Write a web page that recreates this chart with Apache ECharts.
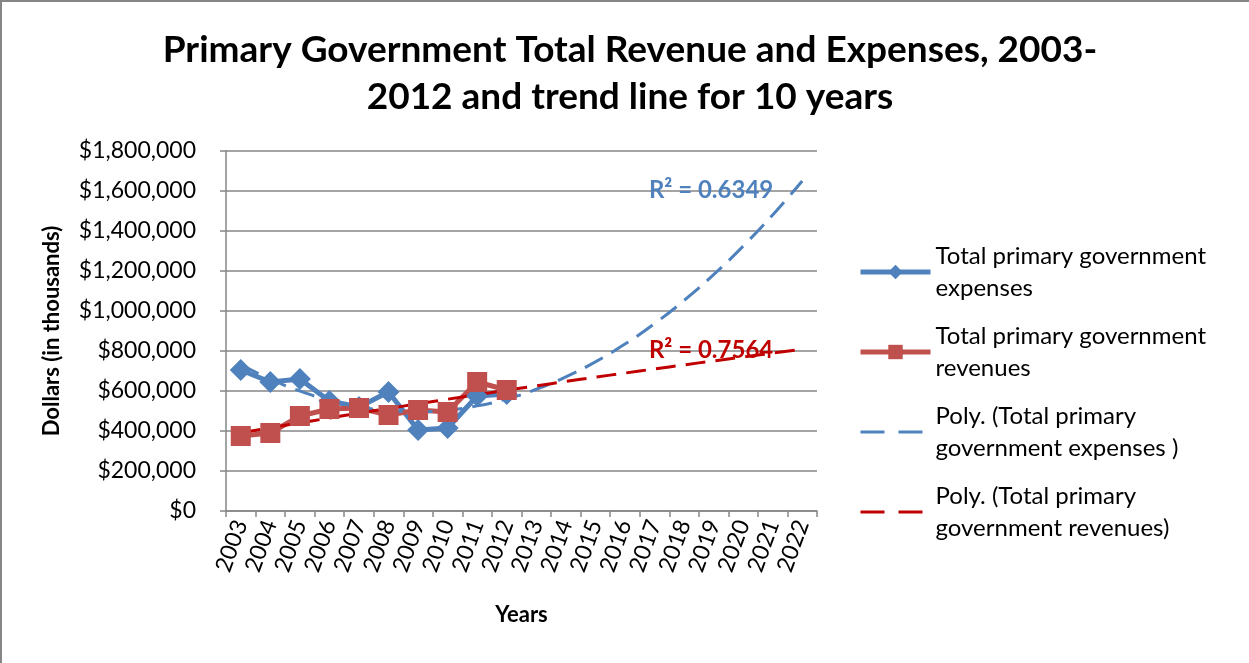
<!DOCTYPE html>
<html>
<head>
<meta charset="utf-8">
<title>Primary Government Total Revenue and Expenses</title>
<script src="https://cdn.jsdelivr.net/npm/echarts@6/dist/echarts.min.js"></script>
<style>
  html, body { margin: 0; padding: 0; background: #ffffff; }
  #frame {
    position: absolute; left: 0; top: 0; width: 1249px; height: 663px;
    box-sizing: border-box; border-top: 2px solid #868686; border-left: 2px solid #868686;
  }
  #chart { position: absolute; left: 0; top: 0; width: 1249px; height: 663px; }
</style>
</head>
<body>
<div id="frame"></div>
<div id="chart"></div>
<script>
// Years on the category axis (observed 2003-2012, projected to 2022)
const years = ['2003','2004','2005','2006','2007','2008','2009','2010','2011','2012',
               '2013','2014','2015','2016','2017','2018','2019','2020','2021','2022'];
// Observed values, dollars in thousands
const expenses = [705000, 645000, 660000, 550000, 520000, 595000, 405000, 415000, 575000, 585000];
const revenues = [375000, 390000, 475000, 510000, 515000, 480000, 505000, 495000, 645000, 605000];
// Goodness-of-fit labels of the polynomial trend lines
const expensesR2 = 'R² = 0.6349';
const revenuesR2 = 'R² = 0.7564';
const seriesNames = [
  'Total primary government\nexpenses',
  'Total primary government\nrevenues',
  'Poly. (Total primary\ngovernment expenses )',
  'Poly. (Total primary\ngovernment revenues)'
];

// Least-squares second-order polynomial through points x = 1..n, evaluated at x = 1..m
function polyTrend(values, m) {
  const n = values.length;
  const s = [0, 0, 0, 0, 0], t = [0, 0, 0];
  for (let i = 0; i < n; i++) {
    const x = i + 1, y = values[i];
    let p = 1;
    for (let k = 0; k <= 4; k++) { s[k] += p; if (k <= 2) t[k] += p * y; p *= x; }
  }
  // Normal equations [s0 s1 s2; s1 s2 s3; s2 s3 s4] * [a b c] = t
  const A = [[s[0], s[1], s[2], t[0]], [s[1], s[2], s[3], t[1]], [s[2], s[3], s[4], t[2]]];
  for (let c = 0; c < 3; c++) {
    for (let r = c + 1; r < 3; r++) {
      const f = A[r][c] / A[c][c];
      for (let k = c; k < 4; k++) A[r][k] -= f * A[c][k];
    }
  }
  const coef = [0, 0, 0];
  for (let r = 2; r >= 0; r--) {
    let v = A[r][3];
    for (let k = r + 1; k < 3; k++) v -= A[r][k] * coef[k];
    coef[r] = v / A[r][r];
  }
  const out = [];
  for (let x = 1; x <= m; x++) out.push(coef[0] + coef[1] * x + coef[2] * x * x);
  return out;
}

const expensesTrend = polyTrend(expenses, years.length);
const revenuesTrend = polyTrend(revenues, years.length);

const FONT = 'Lato, "Open Sans", sans-serif';
const GRID_GREY = '#868686';
const BLUE = '#4F81BD', RED = '#C0504D', DARK_RED = '#C00000';

function r2Label(text, color, offsetY) {
  return {
    show: true,
    formatter: text,
    align: 'right',
    verticalAlign: 'middle',
    distance: 0,
    offset: [-29, offsetY],
    color: color,
    fontFamily: FONT,
    fontWeight: 'bold',
    fontSize: 24
  };
}

const chart = echarts.init(document.getElementById('chart'), null, { renderer: 'canvas' });
chart.setOption({
  backgroundColor: 'transparent',
  animation: false,
  title: {
    text: 'Primary Government Total Revenue and Expenses, 2003-\n2012 and trend line for 10 years',
    left: 625,
    top: 22,
    textAlign: 'center',
    textStyle: { fontFamily: FONT, fontWeight: 'bold', fontSize: 37, lineHeight: 47, color: '#000' }
  },
  grid: { left: 226, right: 432, top: 151, bottom: 152 },
  legend: {
    orient: 'vertical',
    left: 858,
    top: 224,
    padding: 0,
    itemWidth: 70,
    itemHeight: 18,
    itemGap: -16,
    data: [
      { name: seriesNames[0], lineStyle: { width: 5 } },
      { name: seriesNames[1], lineStyle: { width: 5 } },
      { name: seriesNames[2], itemStyle: { opacity: 0 }, lineStyle: { width: 3, type: [24, 14] } },
      { name: seriesNames[3], itemStyle: { opacity: 0 }, lineStyle: { width: 3, type: [24, 14] } }
    ],
    textStyle: { fontFamily: FONT, fontSize: 24, lineHeight: 32, color: '#000', padding: [32, 0, 0, 0] }
  },
  xAxis: {
    type: 'category',
    data: years,
    boundaryGap: true,
    name: 'Years',
    nameLocation: 'middle',
    nameGap: 93,
    nameTextStyle: { fontFamily: FONT, fontWeight: 'bold', fontSize: 22, color: '#000' },
    axisLine: { lineStyle: { color: GRID_GREY, width: 1.5 } },
    axisTick: { show: true, interval: 0, length: 6, lineStyle: { color: GRID_GREY, width: 1.5 } },
    axisLabel: { interval: 0, rotate: 70, margin: 10, fontFamily: FONT, fontSize: 23, color: '#000' }
  },
  yAxis: {
    type: 'value',
    min: 0,
    max: 1800000,
    interval: 200000,
    name: 'Dollars (in thousands)',
    nameLocation: 'middle',
    nameGap: 163,
    nameTextStyle: { fontFamily: FONT, fontWeight: 'bold', fontSize: 22, color: '#000' },
    axisLine: { show: true, lineStyle: { color: GRID_GREY, width: 1.5 } },
    axisTick: { show: true, length: 6, lineStyle: { color: GRID_GREY, width: 1.5 } },
    splitLine: { lineStyle: { color: GRID_GREY, width: 1.5 } },
    axisLabel: {
      margin: 30,
      fontFamily: FONT, fontSize: 23, color: '#000',
      formatter: (v) => '$' + v.toLocaleString('en-US')
    }
  },
  series: [
    {
      name: seriesNames[0],
      type: 'line',
      data: expenses,
      symbol: 'diamond',
      symbolSize: 22,
      color: BLUE,
      lineStyle: { width: 5, color: BLUE },
      itemStyle: { color: BLUE }
    },
    {
      name: seriesNames[1],
      type: 'line',
      data: revenues,
      symbol: 'rect',
      symbolSize: 20,
      color: RED,
      lineStyle: { width: 5, color: RED },
      itemStyle: { color: RED }
    },
    {
      name: seriesNames[2],
      type: 'line',
      data: expensesTrend,
      smooth: true,
      symbol: 'none',
      color: BLUE,
      lineStyle: { width: 3, type: [20, 10], color: BLUE },
      endLabel: r2Label(expensesR2, BLUE, 9)
    },
    {
      name: seriesNames[3],
      type: 'line',
      data: revenuesTrend,
      smooth: true,
      symbol: 'none',
      color: DARK_RED,
      lineStyle: { width: 3, type: [20, 10], color: DARK_RED },
      endLabel: r2Label(revenuesR2, DARK_RED, 1)
    }
  ]
});
</script>
</body>
</html>
